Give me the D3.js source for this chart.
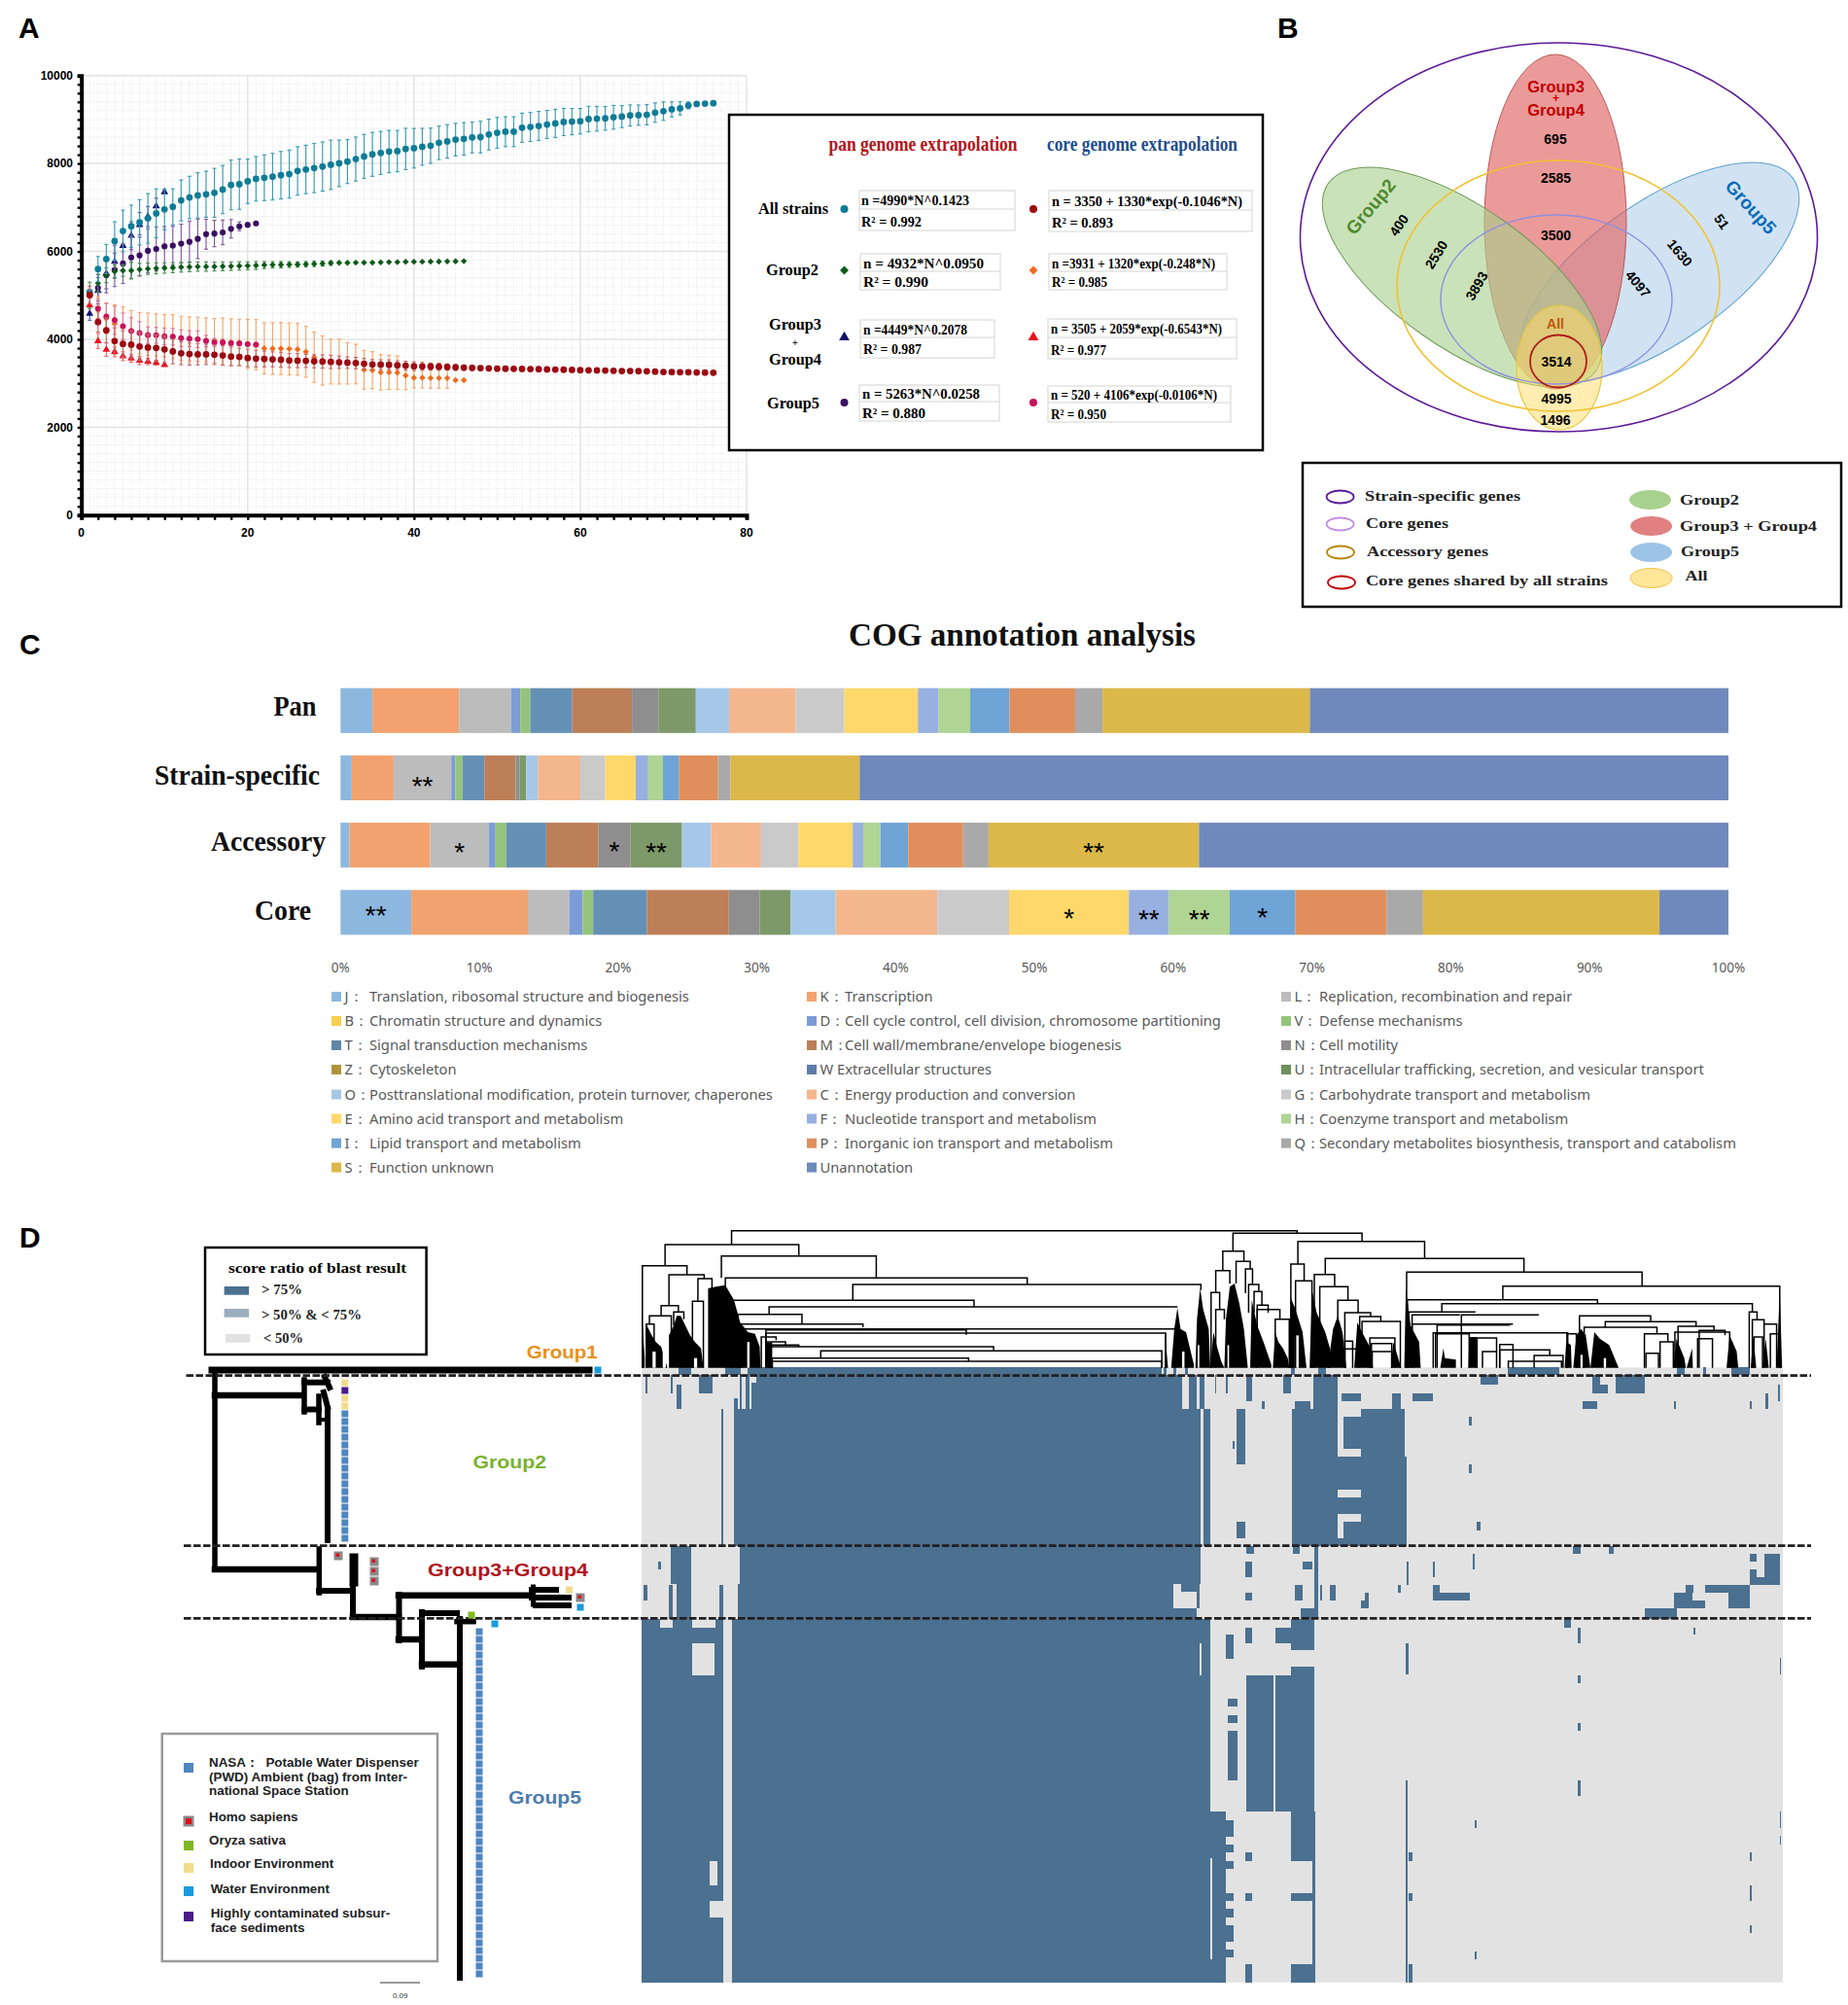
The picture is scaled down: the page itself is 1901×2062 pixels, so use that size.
<!DOCTYPE html>
<html><head><meta charset="utf-8">
<script src="https://cdn.jsdelivr.net/npm/d3@7"></script>
<style>html,body{margin:0;padding:0;background:#fff}svg{display:block}</style></head>
<body><svg id="c" width="1901" height="2062"></svg>
<script>
// ---------- Panel A data ----------
const allPan=[5074,5597,5826,6235,6465,6571,6661,6751,6866,6956,7013,7160,7226,7275,7300,7332,7406,7512,7529,7594,7651,7676,7700,7733,7758,7831,7864,7897,7930,7970,8003,8044,8101,8159,8208,8240,8273,8281,8331,8347,8380,8404,8470,8502,8543,8560,8592,8600,8658,8699,8723,8723,8813,8830,8854,8887,8912,8944,8952,8961,9010,9018,9026,9051,9067,9092,9100,9108,9157,9190,9231,9255,9321,9354,9362,9370];
const allPanErr=[0,286,330,440,475,480,515,565,556,466,410,466,483,515,524,556,548,565,573,507,507,520,530,540,545,550,550,560,560,560,530,500,500,500,500,490,480,470,470,450,420,400,380,380,370,370,350,360,350,350,340,340,330,330,330,320,320,310,300,290,290,280,270,270,250,240,230,230,220,210,170,150,80,0,0,0];
const g2Pan=[5000,5278,5458,5540,5565,5565,5589,5605,5614,5622,5630,5640,5648,5655,5655,5655,5660,5662,5668,5672,5680,5690,5695,5698,5700,5702,5708,5715,5722,5735,5740,5742,5745,5745,5745,5750,5755,5755,5762,5765,5765,5768,5770,5772,5775,5778];
const g2PanErr=[300,200,170,150,130,190,140,130,125,120,115,110,110,105,105,100,100,95,95,90,90,80,70,70,65,60,60,60,55,50,0,0,0,0,0,0,0,0,0,0,0,0,0,0,0,0];
const g34Pan=[4583,5106,5499,5769,6129,6358,6604,6792,7029,7349];
const g34PanErr=[150,300,350,370,350,320,280,230,180,0];
const g5Pan=[5008,5172,5458,5580,5720,5860,5908,6014,6056,6113,6129,6178,6219,6285,6391,6407,6432,6514,6571,6604,6637];
const g5PanErr=[0,300,400,380,450,480,470,500,500,450,440,440,470,450,340,300,280,210,100,50,0];
const allCore=[5008,4394,4206,3960,3895,3879,3838,3813,3805,3772,3723,3682,3666,3658,3658,3650,3633,3609,3600,3576,3560,3552,3544,3536,3519,3515,3510,3500,3495,3486,3478,3470,3460,3445,3429,3425,3420,3410,3400,3388,3385,3380,3375,3370,3362,3355,3350,3345,3340,3331,3330,3328,3325,3322,3320,3315,3312,3308,3303,3298,3295,3292,3290,3285,3280,3278,3275,3272,3265,3257,3255,3252,3250,3245,3242,3240];
const allCoreErr=[200,230,280,300,300,320,320,300,300,300,280,260,250,240,230,220,220,210,200,200,190,180,170,170,160,160,150,150,150,150,140,130,130,120,110,110,110,100,100,100,90,80,80,70,70,60,60,50,50,50,0,0,0,0,0,0,0,0,0,0,0,0,0,0,0,0,0,0,0,0,0,0,0,0,0,0];
const g2Core=[5000,4720,4476,4353,4288,4206,4141,4116,4100,4083,4059,4026,4010,4002,3985,3969,3953,3936,3928,3895,3879,3797,3789,3789,3781,3772,3715,3592,3519,3494,3494,3453,3437,3306,3298,3249,3249,3240,3175,3126,3126,3118,3118,3118,3069,3069];
const g2CoreErr=[0,250,350,430,450,450,470,480,480,480,500,500,500,500,500,500,530,530,530,560,570,580,590,590,590,590,580,570,560,510,510,470,450,440,420,400,390,380,320,230,230,230,230,230,0,0];
const g34Core=[4780,3960,3764,3715,3617,3568,3519,3494,3470,3420];
const g34CoreErr=[0,170,150,110,100,90,90,70,50,0];
const g5Core=[5000,4697,4517,4435,4296,4190,4141,4092,4092,4067,4059,4026,4018,4002,3960,3928,3928,3912,3903,3887,3879];
const g5CoreErr=[0,220,300,320,300,300,260,190,180,190,190,190,180,190,130,90,70,50,40,20,0];
const panATicksX=[0,20,40,60,80], panATicksY=[0,2000,4000,6000,8000,10000];
// ---------- Panel A legend table ----------
const fitRows=[
 {name:['All strains'],pan:'n =4990*N^0.1423',panR:'R² = 0.992',core:'n = 3350 + 1330*exp(-0.1046*N)',coreR:'R² = 0.893'},
 {name:['Group2'],pan:'n = 4932*N^0.0950',panR:'R² = 0.990',core:'n =3931 + 1320*exp(-0.248*N)',coreR:'R² = 0.985'},
 {name:['Group3','+','Group4'],pan:'n =4449*N^0.2078',panR:'R² = 0.987',core:'n = 3505 + 2059*exp(-0.6543*N)',coreR:'R² = 0.977'},
 {name:['Group5'],pan:'n = 5263*N^0.0258',panR:'R² = 0.880',core:'n = 520 + 4106*exp(-0.0106*N)',coreR:'R² = 0.950'}];
// ---------- Panel B data ----------
const vennNumbers=['695','2585','3500','3514','4995','1496','400','2530','3893','51','1630','4097'];
const vennLegendRings=['Strain-specific genes','Core genes','Accessory genes','Core genes shared by all strains'];
const vennLegendFills=['Group2','Group3 + Group4','Group5','All'];
// ---------- Panel C data ----------
const cogSamples=['Pan','Strain-specific','Accessory','Core'];
const cogKeys=['J','K','L','D','V','T','M','N','U','O','C','G','E','F','H','I','P','Q','S','Un'];
const cogPan=[2.3,6.24,3.76,.65,.72,3.03,4.3,1.9,2.7,2.4,4.8,3.5,5.3,1.48,2.29,2.83,4.73,1.97,14.94,30.16];
const cogStrain=[.81,3.01,4.16,.3,.51,1.57,2.25,.3,.47,.84,3.06,1.79,2.2,.9,1.06,1.17,2.8,.9,9.3,62.6];
const cogAccessory=[.64,5.81,4.25,.47,.76,2.89,3.74,2.34,3.7,2.1,3.6,2.7,3.9,.76,1.24,2,3.96,1.83,15.16,38.15];
const cogCore=[5.1,8.4,2.98,.97,.75,3.88,5.9,2.22,2.24,3.23,7.33,5.17,8.63,2.89,4.37,4.74,6.56,2.64,17.03,4.97];
const cogColors=['#8cb8e0','#f2a26e','#bcbcbc','#7c9cd6','#94c47c','#6590b5','#bd7f57','#8e8e8e','#7d9969','#a5c8e8','#f4b68c','#cacaca','#ffd86b','#98b0e0','#afd494','#6fa4d6','#e08f5c','#a9a9a9','#dcb84a','#7089bc'];
const cogStars=[[1,'L','**',3],[2,'L','*',2],[2,'N','*',1],[2,'U','**',2],[2,'S','**',2],[3,'J','**',-2],[3,'E','*',1],[3,'F','**',2],[3,'H','**',2],[3,'I','*',0]];
const cogLegend=[
 [['J：','Translation, ribosomal structure and biogenesis','#8cb8e0'],['B：','Chromatin structure and dynamics','#f7cf4f'],['T：','Signal transduction mechanisms','#5f86a8'],['Z：','Cytoskeleton','#b0943c'],['O：','Posttranslational modification, protein turnover, chaperones','#a5c8e8'],['E：','Amino acid transport and metabolism','#ffd86b'],['I：','Lipid transport and metabolism','#6fa4d6'],['S：','Function unknown','#dcb84a']],
 [['K：','Transcription','#f2a26e'],['D：','Cell cycle control, cell division, chromosome partitioning','#7c9cd6'],['M：','Cell wall/membrane/envelope biogenesis','#bd7f57'],['','W Extracellular structures','#5f7da8'],['C：','Energy production and conversion','#f4b68c'],['F：','Nucleotide transport and metabolism','#98b0e0'],['P：','Inorganic ion transport and metabolism','#e08f5c'],['','Unannotation','#7089bc']],
 [['L：','Replication, recombination and repair','#bcbcbc'],['V：','Defense mechanisms','#94c47c'],['N：','Cell motility','#8e8e8e'],['U：','Intracellular trafficking, secretion, and vesicular transport','#6f8f5c'],['G：','Carbohydrate transport and metabolism','#cacaca'],['H：','Coenzyme transport and metabolism','#afd494'],['Q：','Secondary metabolites biosynthesis, transport and catabolism','#a9a9a9']]];
// ---------- Panel D data: heat map blocks [geneFrom,geneTo,rowFrom,rowTo] ----------
const heatHigh=[
 [160,690,0,1],[1132,1198,0,1],[72,88,0,1],[132,152,0,1],[1348,1358,0,1],[1382,1386,0,1],[1418,1442,0,1],[692,696,0,1],[705,708,0,1],[720,724,0,1],[855,860,0,1],[890,900,0,1],
 [172,710,1,5.3],[150,153,1,5.3],[158,163,1,5.3],[166,172,2,5.3],[176,178,3,5.3],[182,185,4,5.3],[143,148,4,5.3],[143,740,5.3,23],[127,131,5.3,23],[743,752,5.3,23],
 [786,797,5.3,12.5],[786,797,19.8,21.9],[780,783,9.4,10.5],[856,915,5.3,23],[860,880,4.3,5.3],[884,915,1,5.3],[922,1000,6.3,10.5],[945,1000,5.3,6.3],[945,1000,10.5,11.5],[915,1003,11.5,15.7],[945,1003,15.7,16.7],[915,1003,16.7,18.8],[945,1003,18.8,19.8],[922,1003,19.8,21.9],[915,1003,21.9,23],
 [920,945,3.3,4.3],[1010,1036,3.3,4.3],[985,995,3.3,5.3],[1098,1120,1,2.2],[1240,1250,1,3.3],[1250,1260,2.2,3.3],[1270,1308,1,3.3],[1228,1247,4.3,5.3],[1083,1086,6.3,7.5],[1083,1086,12.5,13.6],[1092,1098,19.8,20.9],[1345,1347,4.3,5.3],[1442,1444,4.3,5.3],[1462,1465,3.3,5.3],[1478,1480,2.2,4.3],
 [30,32,1,3.3],[62,65,1,3.3],[70,76,2.2,5.3],[98,116,1,3.3],[710,716,1,5.3],[725,735,1,5.3],[738,745,1,5.3],[798,806,1,4.3],[845,855,1,3.3],[758,760,1,3.3],[772,775,1,3.3],[818,822,4.3,5.3],
 [150,740,23,27.8],[148,705,27.8,32.3],[715,738,27.8,28.8],[62,88,23,27.8],[70,88,27.8,32.3],[797,805,25,27],[797,805,29,30],[870,882,25,26],[885,890,23,32.3],[858,866,23,24],[798,808,23,24],
 [1037,1045,28,30],[1045,1084,29,30],[1442,1450,24,25],[1460,1480,24,27.8],[1442,1480,27,27.9],[1442,1450,26,27],[1385,1442,28,29],[1415,1442,29,31],[1345,1368,29,31],[1360,1370,28,29],[1368,1385,30,31],[1308,1348,31,32.3],[1215,1225,23,24],[1262,1268,23,24],[1087,1090,24,26],[945,955,30,31],
 [860,870,28,30],[892,895,28,30],[905,912,28,30],[950,954,29,30],[702,735,31,32.3],[125,140,28,32.3],[715,720,27,28],[735,738,28,31],[1003,1006,25,28],[1037,1039,25,27],[992,996,28,29],[46,50,25,26],[28,32,28,30],[60,65,28,32.3],[868,885,31,32.3],
 [25,130,33.4,79],[25,48,32.3,33.4],[65,90,32.3,33.4],[120,130,32.3,33.4],[140,752,32.3,57],[140,772,57,79],[772,782,58.2,60.3],[772,782,61.3,62.3],[772,782,63.4,64.4],[772,782,67.5,68.6],[772,782,69.6,70.7],[772,782,71.7,73.8],[772,782,74.8,75.8],
 [855,885,32.3,36.3],[835,855,33.4,35.4],[855,885,38.4,63.4],[855,885,67.5,68.6],[855,882,76.7,79],[798,855,39.5,57],[772,782,34.3,37.4],[797,806,33.4,35.4],[775,787,42.6,43.6],[775,787,44.7,45.7],[775,787,46.7,53],[797,805,62.3,63.4],[797,805,67.5,68.6],[797,805,76.7,79],[738,752,35.4,39.5],
 [1005,1010,62.3,63.4],[1005,1010,67.5,68.6],[1005,1010,76.7,79],[1002,1005,35.4,39.4],[1002,1004,53,79],[1222,1225,33.4,35.4],[1222,1225,39.5,40.5],[1222,1225,45.7,46.7],[1222,1225,53,55],[1090,1092,58.2,59.2],[1090,1092,75,76],[1442,1444,62.3,63.4],[1442,1444,66.5,68.6],[1442,1444,71.7,72.7],[1480,1482,37.3,39.4],[1480,1482,57,59.2],[1480,1482,60.2,61.3],[1205,1213,32.3,33.4],[1370,1372,33.4,34.3],[883,886,57,79]];
const heatLow=[[130,140,5.3,79],[90,118,35.4,39.5],[112,122,63.4,66.5],[112,130,68.6,70.7],[833,835,39.5,57],[752,755,63,76],[738,741,35.4,39.5],[143,147,23,28]];
const dendroLinks=[[140,863,47,90,55],[781,946,55,110,80],[55,226,90,155,125],[127,325,125,193,193],[26,83,155,470,183],[60,105,183,278,195],[50,72,278,310,298],[35,63,310,335,370],[66,79,298,340,320],[31,41,335,470,390],[97,115,195,265,225],[90,104,265,470,470],
 [132,518,193,262,213],[295,740,213,262,230],[140,450,262,470,282],[188,710,282,305,282],[148,230,305,470,335],[151,308,335,470,345],[153,712,350,470,350],[184,440,353,470,368],[184,695,363,470,470],[178,197,375,470,385],[184,209,390,470,400],[188,226,400,470,405],[190,475,405,470,418],[254,690,418,440,470],[192,443,440,470,450],[192,690,450,470,470],
 [768,795,110,170,142],[759,777,170,238,210],[753,764,238,470,290],[759,770,290,470,320],[785,803,142,210,165],[797,806,165,240,213],[801,814,213,300,235],[808,818,235,300,277],[812,826,277,330,300],[812,841,290,470,320],[835,853,320,400,470],
 [864,1026,80,150,133],[899,1153,133,182,175],[855,872,150,470,202],[861,882,202,470,470],[885,911,182,470,220],[892,928,220,400,262],[915,941,262,400,300],[924,957,300,470,312],[943,970,312,400,327],[946,995,327,400,470],[956,988,378,470,470],[958,984,395,470,470],[959,984,420,470,470],[924,934,388,470,470],[924,942,412,470,470],
 [1003,1304,175,470,218],[1126,1480,218,260,470],[1004,1247,260,470,272],[1048,1445,272,298,298],[1006,1091,298,470,298],[1010,1071,307,470,307],[1073,1172,307,470,307],[1010,1139,335,470,335],[1042,1135,338,470,338],[1224,1315,310,470,328],[1257,1373,328,345,342],[1230,1323,345,470,365],[1037,1209,362,470,470],[1040,1083,365,470,470],[1208,1220,365,470,470],[1307,1337,365,470,390],[1327,1344,390,470,470],[1309,1325,425,470,470],[1350,1396,342,470,355],[1346,1416,360,470,470],[1377,1410,355,470,370],[1375,1394,380,470,470],[1093,1118,378,470,420],[1122,1139,398,470,470],[1122,1186,415,470,432],[1100,1118,420,470,470],[1166,1203,432,470,470],[1133,1201,450,470,470],[1441,1451,298,470,322],[1445,1460,322,470,335],[1460,1476,335,470,470],[1447,1458,375,470,470],[1468,1480,365,470,470]];
// filled silhouettes of the densest dendrogram parts [gene, top]
const dendroDense=[
 [[31,470],[31,335],[37,365],[43,390],[50,405],[58,470]],[[60,470],[60,370],[66,340],[70,310],[75,310],[81,340],[87,370],[93,390],[101,410],[104,470]],
 [[110,470],[110,225],[120,220],[132,215],[143,260],[151,330],[161,360],[170,365],[176,405],[177,470]],[[183,470],[183,392],[192,392],[192,470]],[[25,470],[25,280],[29,440],[29,470]],
 [[694,470],[694,360],[698,470]],[[702,470],[706,350],[710,285],[714,350],[721,360],[727,420],[731,460],[731,470]],[[733,470],[735,320],[739,225],[743,290],[750,350],[752,470]],[[752,470],[756,360],[760,400],[766,450],[770,470]],
 [[770,470],[772,320],[777,220],[783,210],[789,270],[795,350],[800,470]],[[803,470],[805,260],[812,340],[820,390],[830,460],[830,470]],[[832,470],[835,360],[839,390],[845,410],[851,440],[853,470]],[[853,470],[855,255],[861,290],[870,360],[875,470]],
 [[879,470],[882,230],[888,300],[899,360],[905,410],[905,470]],[[902,470],[909,350],[915,310],[921,360],[926,470]],[[936,470],[940,330],[946,360],[957,410],[960,470]],[[983,470],[986,390],[996,470]],[[1000,470],[1002,225],[1008,340],[1019,390],[1021,470]],
 [[1046,470],[1050,410],[1052,440],[1066,445],[1066,470]],[[1082,470],[1083,375],[1093,375],[1093,470]],[[1205,470],[1207,390],[1213,400],[1214,470]],[[1216,470],[1220,370],[1226,350],[1232,370],[1238,470]],[[1238,470],[1243,360],[1250,380],[1262,400],[1274,470]],
 [[1344,470],[1348,380],[1358,440],[1360,470]],[[1361,470],[1368,410],[1369,470]],[[1412,470],[1416,370],[1425,420],[1427,470]],[[1443,470],[1446,370],[1450,470]],[[1458,470],[1462,380],[1466,470]],[[1476,470],[1480,230],[1483,470]]];
const dendroSlots=[[39,43,420],[52,56,410],[92,96,440],[160,163,390],[860,865,370],[716,719,420],[736,738,400],[774,776,400],[1255,1258,440],[1225,1228,430]];
const treeBranches=[[218,1409,606,1409,7],[221,1409,221,1614,5.5],[221,1435,311,1435,6.5],[313,1419,313,1452,5.5],[313,1421.7,337,1421.7,6],[334,1416,339,1427,6],[313,1449.5,328,1449.5,6],[328,1436,328,1463,5.5],[333,1432,337,1447,6],[328,1460,337,1460,4],[337,1452,337,1584,6],[221,1614,326,1614,6.5],[328.3,1593,328.3,1638,5.5],[328,1636,362,1636,6],[364,1602,364,1627,9],[363,1627,363,1663,6],[363,1663,410,1663,6.5],[410.5,1640,410.5,1687,6],[410,1640.7,547,1640.7,6.5],[547,1635,572,1635,6],[547,1643,585,1643,6],[551,1651,585,1651,6],[548.5,1632,548.5,1650,5],[410,1686,433,1686,6.5],[434,1658,434,1714,6],[434,1659,470,1659,6],[434,1711.7,470,1711.7,6.5],[473,1665,473,2034,6],[470,1667.7,487,1667.7,5.5]];
const sourceCol2=['indoor','purple','indoor','indoor',...Array(17).fill('nasa')];
const sourceCol5=Array(45).fill('nasa');
const sourceSingles=[['water',615,1409],['homo',348,1600],['homo',385,1606],['homo',385,1616],['homo',385,1626],['indoor',585.5,1635],['homo',597,1643],['water',597,1653],['oryza',485,1661],['water',509,1670]];
const sourceColor={nasa:'#4f86bf',indoor:'#f0dc8c',purple:'#4b1b8a',water:'#1a9ae0',oryza:'#80b822',homo:'#8a8a8a'};
const sourceLegend=[['nasa',['NASA：  Potable Water Dispenser','(PWD) Ambient (bag) from Inter-','national Space Station'],1818,1817,215],['homo',['Homo sapiens'],1873,1873,215],['oryza',['Oryza sativa'],1898,1897,215],['indoor',['Indoor Environment'],1921,1921,216],['water',['Water Environment'],1945,1947,216.7],['purple',['Highly contaminated subsur-','face sediments'],1971,1972,216.7]];

// ---------- helpers ----------
const svg=d3.select('#c');
const SERIF='"Liberation Serif",serif', SANS='"Liberation Sans",Arial,sans-serif', NOTO='"Noto Sans",sans-serif';
function T(x,y,s,o={}){const e=svg.append('text').attr('x',x).attr('y',y).text(s)
 .attr('font-family',o.family||SANS).attr('font-size',o.size||12).attr('font-weight',o.weight||'normal')
 .attr('fill',o.fill||'#000').attr('text-anchor',o.anchor||'start').style('white-space','pre');
 if(o.len)e.attr('textLength',o.len).attr('lengthAdjust','spacingAndGlyphs');
 if(o.rot!==undefined)e.attr('transform',`rotate(${o.rot} ${x} ${y})`);return e;}
function box(x1,y1,x2,y2,stroke,w,fill){return svg.append('rect').attr('x',x1).attr('y',y1).attr('width',x2-x1).attr('height',y2-y1).attr('fill',fill||'none').attr('stroke',stroke).attr('stroke-width',w);}
[['A',19,39],['B',1314,39],['C',20,673],['D',20,1283]].forEach(d=>T(d[1],d[2],d[0],{size:30,weight:'bold'}));

// ---------- Panel A ----------
const ax=d3.scaleLinear().domain([0,80]).range([83.7,768]);
const ay=d3.scaleLinear().domain([0,10000]).range([529.8,77.7]);
const gridG=svg.append('g');
d3.range(0,81).forEach(v=>gridG.append('line').attr('x1',ax(v)).attr('x2',ax(v)).attr('y1',ay(0)).attr('y2',ay(10000)).attr('stroke',v%20==0?'#e4e4e4':'#dcdcdc').attr('stroke-width',v%20==0?1.5:.7).attr('stroke-dasharray',v%20==0?null:'1.2 1.8'));
d3.range(0,10001,200).forEach(v=>gridG.append('line').attr('x1',ax(0)).attr('x2',ax(80)).attr('y1',ay(v)).attr('y2',ay(v)).attr('stroke',v%2000==0?'#e4e4e4':'#dcdcdc').attr('stroke-width',v%2000==0?1.5:.7).attr('stroke-dasharray',v%2000==0?null:'1.2 1.8'));
const DIAM=d3.symbolDiamond2||d3.symbolDiamond;
const series=[
 {v:g34Pan,e:g34PanErr,c:'#10106e',ec:'#5a5aa8',s:d3.symbolTriangle,size:26},
 {v:g5Pan,e:g5PanErr,c:'#3a0f63',ec:'#8458a0',s:d3.symbolCircle,size:30},
 {v:g2Pan,e:g2PanErr,c:'#0b5a16',ec:'#4c8f52',s:DIAM,size:26},
 {v:allPan,e:allPanErr,c:'#0e7c96',ec:'#3a9cb4',s:d3.symbolCircle,size:36},
 {v:g34Core,e:g34CoreErr,c:'#e8121e',ec:'#ee6a6a',s:d3.symbolTriangle,size:26},
 {v:g2Core,e:g2CoreErr,c:'#ef6a1a',ec:'#f4a76a',s:DIAM,size:26},
 {v:g5Core,e:g5CoreErr,c:'#c8145a',ec:'#dc7a9c',s:d3.symbolCircle,size:28},
 {v:allCore,e:allCoreErr,c:'#9c0a12',ec:'#c26a6a',s:d3.symbolCircle,size:36}];
series.forEach(S=>{const g=svg.append('g');
 S.v.forEach((val,i)=>{const n=i+1,x=ax(n),er=S.e[i];if(er>0){
  g.append('line').attr('x1',x).attr('x2',x).attr('y1',ay(val-er)).attr('y2',ay(val+er)).attr('stroke',S.ec).attr('stroke-width',1.15);
  [val-er,val+er].forEach(q=>g.append('line').attr('x1',x-2).attr('x2',x+2).attr('y1',ay(q)).attr('y2',ay(q)).attr('stroke',S.ec).attr('stroke-width',1.15));}});
 S.v.forEach((val,i)=>g.append('path').attr('d',d3.symbol().type(S.s).size(S.size)()).attr('transform',`translate(${ax(i+1)},${ay(val)})`).attr('fill',S.c));
});
const gx=svg.append('g').attr('transform',`translate(0,${ay(0)})`).call(d3.axisBottom(ax).tickValues(d3.range(0,81,2)).tickSize(5).tickFormat(''));
const gy=svg.append('g').attr('transform',`translate(${ax(0)},0)`).call(d3.axisLeft(ay).tickValues(d3.range(0,10001,200)).tickSize(4).tickFormat(''));
[gx,gy].forEach(g=>{g.selectAll('path').attr('stroke','#000').attr('stroke-width',4);g.selectAll('line').attr('stroke','#000').attr('stroke-width',2.4);});
panATicksX.forEach(v=>T(ax(v),552,v,{size:12,weight:'bold',anchor:'middle'}));
panATicksY.forEach(v=>T(75,ay(v)+4.3,v,{size:12,weight:'bold',anchor:'end'}));
box(750,118,1299,463,'#000',2.5,'#fff');
T(852.5,155,'pan genome extrapolation',{family:SERIF,weight:'bold',size:22,fill:'#b5121b',len:194});
T(1077,155,'core genome extrapolation',{family:SERIF,weight:'bold',size:22,fill:'#1f4e8c',len:196});
const fitGeom=[
 {ny:[220],ns:[16.5],lx:816,lw:[72],p:[884,196,1044,237,215],pt:[886,211,111,233,62],c:[1079,196,1288,238,216],ct:[1082,212,196,234,63],m:215},
 {ny:[283],ns:[16.5],lx:815,lw:[54],p:[885,261,1029,298,279],pt:[888,276,124,295,67],c:[1079,261,1262,298,279],ct:[1082,276,168,295,57],m:278},
 {ny:[339,356,375],ns:[16,11,16],lx:818,lw:[54,null,54],p:[885,329,1023,368,347],pt:[888,344,107,364,60],c:[1078,328,1272,369,347],ct:[1081,343,176,365,57],m:347},
 {ny:[420],ns:[16.5],lx:816,lw:[54],p:[884,396,1028,433,413],pt:[887,410,121,430,65],c:[1078,397,1266,434,414],ct:[1081,411,171,431,57],m:414}];
const markers=[[series[3],series[7]],[series[2],series[5]],[series[0],series[4]],[series[1],series[6]]];
fitRows.forEach((r,i)=>{const G=fitGeom[i];
 r.name.forEach((n,k)=>T(G.lx,G.ny[k],n,{family:SERIF,weight:'bold',size:G.ns[k],anchor:'middle',len:G.lw[k]}));
 [[G.p,G.pt,r.pan,r.panR,868.5,0],[G.c,G.ct,r.core,r.coreR,1063,1]].forEach(q=>{const [b,t,a,rr,mx,mi]=q;
  box(b[0],b[1],b[2],b[3],'#d4d4d4',1);svg.append('line').attr('x1',b[0]).attr('x2',b[2]).attr('y1',b[4]).attr('y2',b[4]).attr('stroke','#d4d4d4');
  T(t[0],t[1],a,{family:SERIF,weight:'bold',size:14.5,len:t[2]});
  T(t[0],t[3],rr,{family:SERIF,weight:'bold',size:14.5,len:t[4]});
  const S=markers[i][mi];svg.append('path').attr('d',d3.symbol().type(S.s).size(50)()).attr('transform',`translate(${mx},${G.m})`).attr('fill',S.c);
 });
});

// ---------- Panel B ----------
const vennFill=[
 {cx:1707,cy:280,rx:168,ry:72,rot:-35,f:'#bdd7ee',o:.7,s:'#5aa0cc'},
 {cx:1600,cy:228,rx:73,ry:172,rot:0,f:'#e06666',o:.66,s:'#b85a5a'},
 {cx:1504,cy:285,rx:168,ry:72,rot:35,f:'#a9d18e',o:.62,s:'#6f9a58'}];
const E=(cx,cy,rx,ry,rot,f,s,w,o)=>svg.append('ellipse').attr('cx',cx).attr('cy',cy).attr('rx',rx).attr('ry',ry).attr('transform',`rotate(${rot} ${cx} ${cy})`).attr('fill',f).attr('fill-opacity',o==null?1:o).attr('stroke',s).attr('stroke-width',w);
E(1603.5,244,266,200,0,'none','#5b1a98',1.6);
vennFill.forEach(d=>E(d.cx,d.cy,d.rx,d.ry,d.rot,d.f,d.s,1,d.o));
E(1604,378,44,64,0,'#ffdc64',"#e6c840",1.2,.5);
E(1603,294,166,129,0,'none','#f1c232',1.6);
E(1601,308,119,87,0,'none','#8f8fe0',1.4);
E(1603,371.5,29,27,0,'none','#b01c1c',1.8);
const vennPos=[[1600,143,0],[1600.5,183,0],[1600.5,242,0],[1601,372,0],[1601,410,0],[1600,432,0],[1439,231.5,-55],[1477.5,262,-58],[1519,294,-60],[1771,228,55],[1728,260,50],[1685,292,50]];
vennNumbers.forEach((n,i)=>{const p=vennPos[i];const t=T(p[0],p[1],n,{size:14,weight:'bold',anchor:'middle'}).attr('dominant-baseline','central');if(p[2])t.attr('transform',`rotate(${p[2]} ${p[0]} ${p[1]})`);});
[['Group3',95,16.5],['+',105,12],['Group4',119,16.5]].forEach(d=>T(1600.5,d[1],d[0],{size:d[2],weight:'bold',fill:'#c00000',anchor:'middle'}));
T(1600,338,'All',{size:14,weight:'bold',fill:'#c0560a',anchor:'middle'});
T(1410,212.6,'Group2',{size:19,weight:'bold',fill:'#4f8a2f',anchor:'middle',rot:-50}).attr('dominant-baseline','central');
T(1801,213,'Group5',{size:19,weight:'bold',fill:'#0b6cb8',anchor:'middle',rot:48}).attr('dominant-baseline','central');
box(1340,476,1894,624,'#000',2.5);
const ringGeom=[[1378.6,511,'#5b1a98',1404,515,160],[1378.6,539,'#c58fe6',1405,543,85],[1379,568,'#b8860b',1406,572,125],[1380,599,'#c00000',1405,602,249]];
vennLegendRings.forEach((n,i)=>{const g=ringGeom[i];E(g[0],g[1],14,6.5,0,'none',g[2],1.8);T(g[3],g[4],n,{family:SERIF,weight:'bold',size:15,len:g[5],fill:'#222'});});
const fillGeom=[[1697.5,514,'#a9d18e','none',1728,519,61],[1698.6,541,'#e08080','none',1728,546,141],[1698.6,568,'#9dc3e6','none',1729,572,60],[1698.6,594.5,'#ffe699','#f0c040',1733.5,596.5,23]];
vennLegendFills.forEach((n,i)=>{const g=fillGeom[i];E(g[0],g[1],21.5,10,0,g[2],g[3],1);T(g[4],g[5],n,{family:SERIF,weight:'bold',size:15,len:g[6],fill:'#222'});});

// ---------- Panel C ----------
T(873,664,'COG annotation analysis',{family:SERIF,weight:'bold',size:33,len:357,fill:'#111'});
const cx=d3.scaleLinear().domain([0,100]).range([350.3,1778]);
const cy=d3.scaleBand().domain(cogSamples).range([707.7,961.4]).paddingInner(1/3);
const rowsC=[cogPan,cogStrain,cogAccessory,cogCore].map((a,i)=>{const o={sample:cogSamples[i]};cogKeys.forEach((k,j)=>o[k]=a[j]);return o;});
const stacked=d3.stack().keys(cogKeys)(rowsC);
stacked.forEach((layer,j)=>svg.append('g').attr('fill',cogColors[j]).selectAll('rect').data(layer).join('rect')
 .attr('x',d=>cx(d[0])).attr('width',d=>cx(d[1])-cx(d[0])).attr('y',d=>cy(d.data.sample)).attr('height',cy.bandwidth()));
const labelEnd=[325.5,329,335,320], labelBase=[736,807,875,946], labelW=[44,170,118,58];
cogSamples.forEach((s,i)=>T(labelEnd[i]-labelW[i],labelBase[i],s,{family:SERIF,weight:'bold',size:29,len:labelW[i],fill:'#111'}));
cogStars.forEach(([r,k,m,dy0])=>{const j=cogKeys.indexOf(k),d=stacked[j][r];
 T(cx((d[0]+d[1])/2),cy(cogSamples[r])+cy.bandwidth()/2+15+dy0,m,{size:28,anchor:'middle'});});
d3.range(0,101,10).forEach(v=>T(cx(v),1000,v+'%',{family:NOTO,size:13.5,fill:'#595959',anchor:'middle'}));
const colX=[341,830,1318],rowY=[1025,1050,1075,1100,1125.6,1150.5,1175.7,1200.6];
cogLegend.forEach((col,c)=>col.forEach((d,r)=>{
 svg.append('rect').attr('x',colX[c]).attr('y',rowY[r]-5).attr('width',10).attr('height',10).attr('fill',d[2]);
 if(d[0])T(colX[c]+13.5,rowY[r]+5,d[0],{family:NOTO,size:14.7,fill:'#595959'});
 T(colX[c]+(d[0]?39:13.5),rowY[r]+5,d[1],{family:NOTO,size:14.7,fill:'#595959'});
}));

// ---------- Panel D ----------
const hx=d3.scaleLinear().domain([25,1484]).range([660,1834]);
const hr=d3.scaleLinear().domain([0,79]).range([1406.3,2038.7]);
const dy=d3.scaleLinear().domain([47,470]).range([1265.7,1406.7]);
svg.append('rect').attr('x',hx(25)).attr('y',hr(0)).attr('width',hx(1484)-hx(25)).attr('height',hr(79)-hr(0)).attr('fill','#e2e2e2');
const blocks=(arr,fill)=>svg.append('g').attr('fill',fill).attr('shape-rendering','crispEdges').selectAll('rect').data(arr).join('rect').attr('x',d=>Math.round(hx(d[0]))).attr('width',d=>Math.max(1,Math.round(hx(d[1]))-Math.round(hx(d[0])))).attr('y',d=>Math.round(hr(d[2]))).attr('height',d=>Math.round(hr(d[3]))-Math.round(hr(d[2])));
blocks(heatHigh,'#4b7090');blocks(heatLow,'#e2e2e2');
const dg=svg.append('g');
const darea=d3.area().x(d=>hx(d[0])).y0(dy(470)).y1(d=>dy(d[1]));
dg.selectAll('path.t').data(dendroDense).join('path').attr('d',darea).attr('fill','#000');
dg.selectAll('rect.s').data(dendroSlots).join('rect').attr('x',d=>hx(d[0])).attr('width',d=>hx(d[1])-hx(d[0])).attr('y',d=>dy(d[2])).attr('height',d=>dy(470)-dy(d[2])).attr('fill','#fff');
dg.selectAll('path.u').data(dendroLinks).join('path').attr('d',d=>`M${hx(d[0])},${dy(d[3])}V${dy(d[2])}H${hx(d[1])}V${dy(d[4])}`).attr('fill','none').attr('stroke','#000').attr('stroke-width',1.5);
const tx=d3.scaleIdentity(),ty=d3.scaleIdentity();
svg.append('g').selectAll('line').data(treeBranches).join('line').attr('x1',d=>tx(d[0])).attr('y1',d=>ty(d[1])).attr('x2',d=>tx(d[2])).attr('y2',d=>ty(d[3])).attr('stroke','#000').attr('stroke-width',d=>d[4]).attr('stroke-linecap','square');
[[191.5,1414.7],[189,1589.7],[189,1664.3]].forEach(d=>svg.append('line').attr('x1',d[0]).attr('x2',1863).attr('y1',d[1]).attr('y2',d[1]).attr('stroke','#231f20').attr('stroke-width',2.8).attr('stroke-dasharray','7.5 2.5'));
function src(k,x,y,sz){sz=sz||7;
 if(k=='homo'){const q=sz>7?11:9;svg.append('rect').attr('x',x-q/2).attr('y',y-q/2).attr('width',q).attr('height',q).attr('fill','#8a8a8a');svg.append('rect').attr('x',x-q*.28).attr('y',y-q*.28).attr('width',q*.56*(sz>7?1:.7)).attr('height',q*.56*(sz>7?1:.7)).attr('fill','#e0101a');return;}
 svg.append('rect').attr('x',x-sz/2).attr('y',y-sz/2).attr('width',sz).attr('height',sz).attr('fill',sourceColor[k]);}
sourceCol2.forEach((k,i)=>src(k,354.8,1422+8*i));
sourceCol5.forEach((k,i)=>src(k,493,1678+8*i));
sourceSingles.forEach(d=>src(d[0],d[1],d[2]));
box(211,1283,438.6,1393,'#000',2.5);
T(235,1309,'score ratio of blast result',{family:SERIF,weight:'bold',size:15,len:183});
[[230.6,1323,'#4b7090'],[230.6,1346,'#9aaebf'],[232,1372,'#e2e2e2']].forEach(d=>svg.append('rect').attr('x',d[0]).attr('y',d[1]).attr('width',25.5).attr('height',8.7).attr('fill',d[2]));
[[269,1331,'> 75%',42],[269,1357,'> 50% & < 75%',103],[271,1381,'< 50%',41]].forEach(d=>T(d[0],d[1],d[2],{family:SERIF,weight:'bold',size:15,len:d[3],fill:'#222'}));
[['Group1',541.7,1397,73,'#e8901a'],['Group2',486.5,1510,75.5,'#7ab32c'],['Group3+Group4',440,1620.7,165,'#b3121d'],['Group5',523,1855,75,'#4d7cb0']].forEach(d=>T(d[1],d[2],d[0],{size:18,weight:'bold',fill:d[4],len:d[3]}));
box(166.7,1783,450,2017,'#9a9a9a',2.5);
sourceLegend.forEach(d=>{src(d[0],194,d[2],10);d[1].forEach((l,i)=>T(d[4],d[3]+i*14.7,l,{size:13.4,weight:'bold',fill:'#222'}));});
svg.append('line').attr('x1',391).attr('x2',432).attr('y1',2039).attr('y2',2039).attr('stroke','#333').attr('stroke-width',1);
T(411.7,2055,'0.09',{size:8,anchor:'middle',fill:'#333'});
</script></body></html>
